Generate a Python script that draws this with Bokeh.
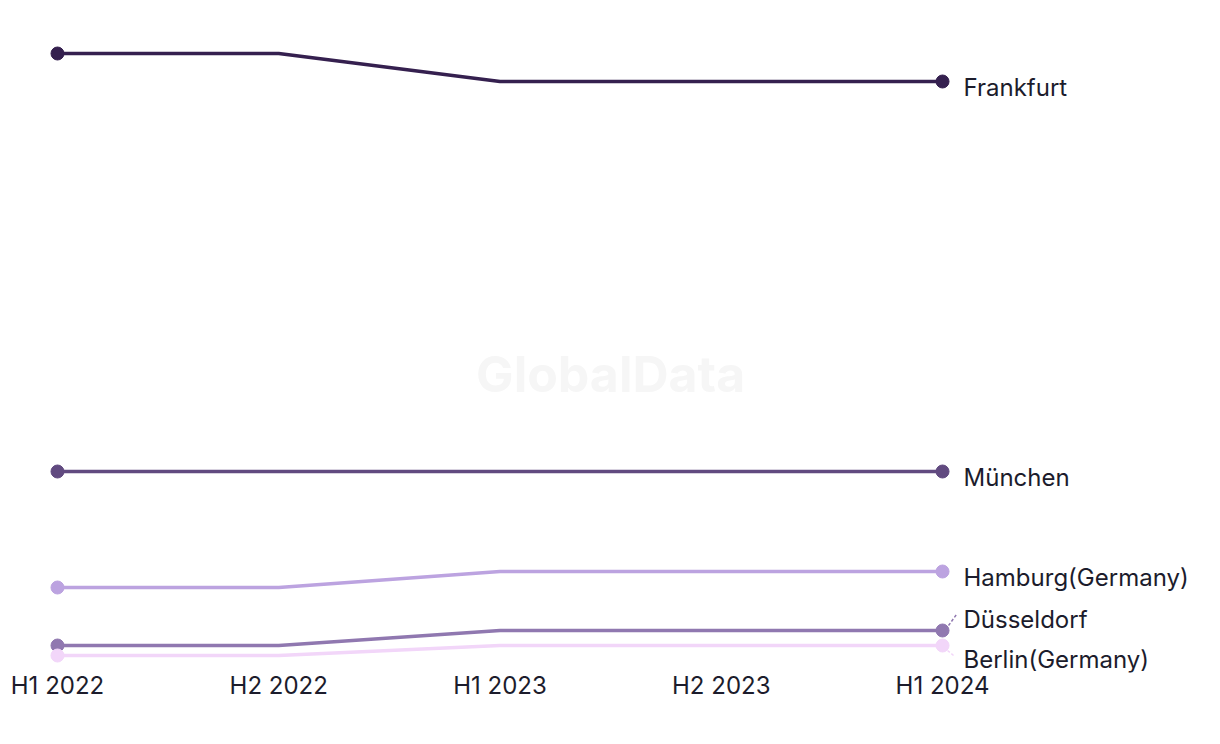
from bokeh.plotting import figure
from bokeh.models import Range1d, FixedTicker, Label, ColumnDataSource
from bokeh.embed import file_html
from bokeh.resources import INLINE
from bokeh.core.properties import value

periods = ["H1 2022", "H2 2022", "H1 2023", "H2 2023", "H1 2024"]
cities = ["Frankfurt", "München", "Hamburg(Germany)", "Düsseldorf", "Berlin(Germany)"]
frankfurt = [61.2, 61.2, 58.4, 58.4, 58.4]
muenchen = [19.4, 19.4, 19.4, 19.4, 19.4]
hamburg = [7.8, 7.8, 9.4, 9.4, 9.4]
duesseldorf = [2.0, 2.0, 3.5, 3.5, 3.5]
berlin = [1.0, 1.0, 2.0, 2.0, 2.0]
series = [frankfurt, muenchen, hamburg, duesseldorf, berlin]
colors = ["#35204f", "#614a80", "#bca3e0", "#9078b0", "#f2d6f9"]
label_dy = [6, 6, 6, -11, 14]

FONT = "Inter"
TXT = "#1c1c2c"

xs = list(range(len(periods)))
p = figure(width=1204, height=728, output_backend="svg", toolbar_location=None,
           x_range=Range1d(-0.0768, 5.166), y_range=Range1d(-0.7, 65.5),
           min_border_left=40, min_border_right=4, min_border_top=10, min_border_bottom=56)
p.outline_line_color = None
p.xgrid.visible = False
p.ygrid.visible = False
p.yaxis.visible = False
p.background_fill_color = "white"
p.border_fill_color = "white"

ax = p.xaxis[0]
ax.ticker = FixedTicker(ticks=xs)
ax.major_label_overrides = {i: t for i, t in enumerate(periods)}
ax.axis_line_color = None
ax.major_tick_line_color = None
ax.minor_tick_line_color = None
ax.major_label_text_font = FONT
ax.major_label_text_font_size = "24px"
ax.major_label_text_color = TXT
ax.major_label_standoff = -8

wm = Label(x=2.5, y=29.2, text="GlobalData", text_font=FONT, text_font_size="50px",
           text_font_style="bold", text_color="#f6f6f6", text_align="center",
           text_baseline="middle")
p.add_layout(wm)

for vals, c in zip(series, colors):
    p.line(xs, vals, line_color=c, line_width=3.7)
    p.scatter([xs[0], xs[-1]], [vals[0], vals[-1]], size=13, fill_color=c, line_color=c)

# connectors for displaced labels
last = xs[-1]
px_x = 221.25
px_y = 10.0
p.segment(x0=[last + 6 / px_x], y0=[duesseldorf[-1] + 5 / px_y],
          x1=[last + 14 / px_x], y1=[duesseldorf[-1] + 16 / px_y],
          line_color="#9078b0", line_width=1.5, line_dash="3 2")
p.segment(x0=[last + 5 / px_x], y0=[berlin[-1] - 5 / px_y],
          x1=[last + 11 / px_x], y1=[berlin[-1] - 10 / px_y],
          line_color="#f2d6f9", line_width=1.5, line_dash="3 2")

src = ColumnDataSource(dict(x=[last] * len(cities), y=[s[-1] for s in series],
                            t=cities, dy=label_dy))
p.text(x="x", y="y", text="t", source=src, x_offset=21, y_offset="dy",
       text_font=value(FONT), text_font_size="24px", text_color=TXT,
       text_baseline="middle", text_align="left")

open("out.html", "w").write(file_html(p, INLINE))
